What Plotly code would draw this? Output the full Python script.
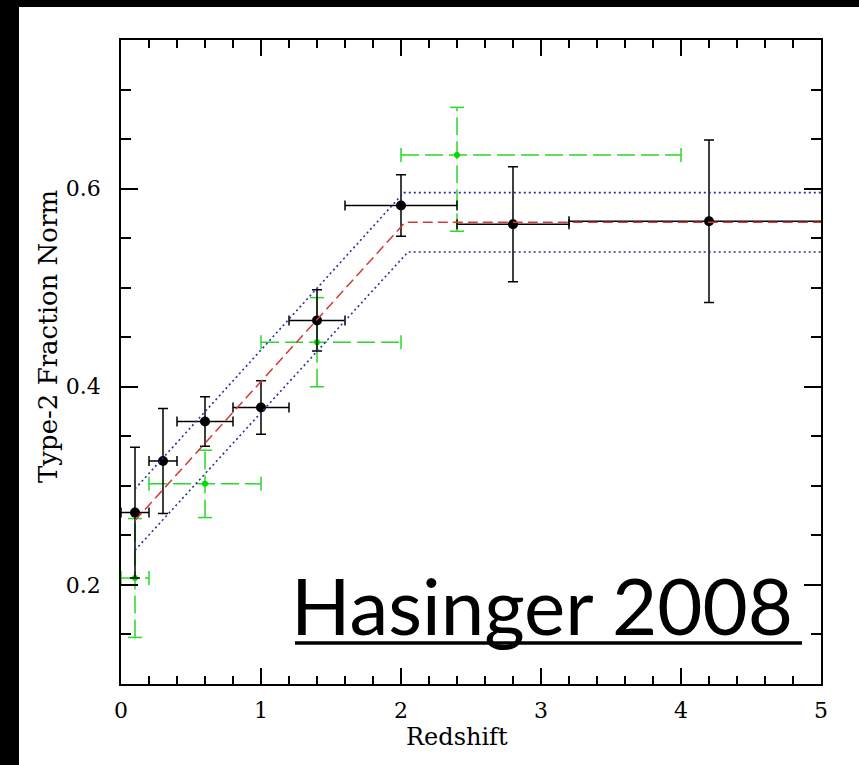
import plotly.graph_objects as go

# ---- data ----
blk_x = [0.1, 0.3, 0.6, 1.0, 1.4, 2.0, 2.8, 4.2]
blk_y = [0.273, 0.325, 0.365, 0.379, 0.467, 0.583, 0.564, 0.567]
blk_xerr = [0.1, 0.1, 0.2, 0.2, 0.2, 0.4, 0.4, 1.0]
blk_yerr = [0.066, 0.053, 0.025, 0.027, 0.031, 0.031, 0.058, 0.082]

grn_x = [0.1, 0.6, 1.4, 2.4]
grn_y = [0.207, 0.302, 0.445, 0.634]
grn_xminus = [0.1, 0.4, 0.4, 0.4]
grn_xplus = [0.1, 0.4, 0.6, 1.6]
grn_yminus = [0.06, 0.034, 0.045, 0.077]
grn_yplus = [0.06, 0.034, 0.045, 0.048]

fit_x = [0.1, 2.03, 5.0]
fit_y = [0.265, 0.566, 0.566]
hi_x = [0.1, 2.02, 5.0]
hi_y = [0.297, 0.596, 0.596]
lo_x = [0.1, 2.05, 5.0]
lo_y = [0.235, 0.536, 0.536]

x_ticks = [0, 1, 2, 3, 4, 5]
y_ticks = [0.2, 0.4, 0.6]

GREEN = "#2ad92a"
GREEN_M = "#00d800"
RED = "#d23a3a"
BLUE = "#27309e"

fig = go.Figure()

# green dashed error bars (segments) built from data
seg_x, seg_y = [], []
capx_x, capx_y, capy_x, capy_y = [], [], [], []
for x, y, xm, xp, ym, yp in zip(grn_x, grn_y, grn_xminus, grn_xplus, grn_yminus, grn_yplus):
    seg_x += [x - xm, x + xp, None, x, x, None]
    seg_y += [y, y, None, y - ym, y + yp, None]
    capx_x += [x - xm, x + xp]
    capx_y += [y, y]
    capy_x += [x, x]
    capy_y += [y - ym, y + yp]

fig.add_trace(go.Scatter(x=seg_x, y=seg_y, mode="lines",
                         line=dict(color=GREEN, width=1.5, dash="18px,6px"),
                         showlegend=False, hoverinfo="skip"))
fig.add_trace(go.Scatter(x=capx_x, y=capx_y, mode="markers",
                         marker=dict(symbol="line-ns", size=10, line=dict(color=GREEN, width=1.5)),
                         showlegend=False, hoverinfo="skip"))
fig.add_trace(go.Scatter(x=capy_x, y=capy_y, mode="markers",
                         marker=dict(symbol="line-ew", size=10, line=dict(color=GREEN, width=1.5)),
                         showlegend=False, hoverinfo="skip"))
fig.add_trace(go.Scatter(x=grn_x, y=grn_y, mode="markers",
                         marker=dict(color=GREEN_M, size=6),
                         showlegend=False))

# black points with error bars
fig.add_trace(go.Scatter(
    x=blk_x, y=blk_y, mode="markers",
    marker=dict(color="black", size=10),
    error_x=dict(type="data", array=blk_xerr, color="black", thickness=1.5, width=5),
    error_y=dict(type="data", array=blk_yerr, color="black", thickness=1.5, width=5),
    showlegend=False))

# fit and confidence band
fig.add_trace(go.Scatter(x=hi_x, y=hi_y, mode="lines",
                         line=dict(color=BLUE, width=1.6, dash="2px,3px"), showlegend=False))
fig.add_trace(go.Scatter(x=lo_x, y=lo_y, mode="lines",
                         line=dict(color=BLUE, width=1.6, dash="2px,3px"), showlegend=False))
fig.add_trace(go.Scatter(x=fit_x, y=fit_y, mode="lines",
                         line=dict(color=RED, width=1.5, dash="10px,5px"), showlegend=False))

axis_common = dict(showline=True, linecolor="black", linewidth=1.5, mirror="ticks",
                   ticks="inside", tickcolor="black", tickwidth=1.5,
                   showgrid=False, zeroline=False,
                   tickfont=dict(family="DejaVu Serif", size=22, color="black"))

fig.update_xaxes(range=[0, 5], tickvals=x_ticks, ticktext=[str(v) for v in x_ticks],
                 ticklen=16, ticklabelstandoff=6,
                 minor=dict(dtick=0.2, tick0=0, ticks="inside", ticklen=8,
                            tickcolor="black", tickwidth=1.5, showgrid=False),
                 **axis_common)
fig.update_yaxes(range=[0.1, 0.75], tickvals=y_ticks, ticktext=[f"{v:.1f}" for v in y_ticks],
                 ticklen=17, ticklabelstandoff=14,
                 minor=dict(dtick=0.05, tick0=0, ticks="inside", ticklen=10,
                            tickcolor="black", tickwidth=1.5, showgrid=False),
                 **axis_common)

W, H = 859, 765
L, R, T, B = 121, 38, 40, 81
pw, ph = W - L - R, H - T - B

def px(xpix):
    return (xpix - L) / pw

def py(ypix):
    return (H - B - ypix) / ph

fig.update_layout(
    width=W, height=H,
    margin=dict(l=L, r=R, t=T, b=B),
    paper_bgcolor="white", plot_bgcolor="white",
    showlegend=False,
    annotations=[
        dict(text="Redshift", xref="paper", yref="paper", x=px(457), y=py(737),
             xanchor="center", yanchor="middle", showarrow=False,
             font=dict(family="DejaVu Serif", size=24, color="black")),
        dict(text="Type-2 Fraction Norm", xref="paper", yref="paper", x=px(48), y=py(337),
             xanchor="center", yanchor="middle", showarrow=False, textangle=-90,
             font=dict(family="DejaVu Serif", size=26, color="black")),
        dict(text="Hasinger 2008", xref="paper", yref="paper", x=px(289), y=py(605),
             xanchor="left", yanchor="middle", showarrow=False,
             font=dict(family="Lato", size=78, color="black")),
    ],
    shapes=[
        dict(type="rect", xref="paper", yref="paper", x0=px(-5), x1=px(19), y0=py(770), y1=py(-5),
             fillcolor="black", line=dict(width=0)),
        dict(type="rect", xref="paper", yref="paper", x0=px(-5), x1=px(865), y0=py(7), y1=py(-5),
             fillcolor="black", line=dict(width=0)),
        dict(type="line", xref="paper", yref="paper", x0=px(295), x1=px(802), y0=py(643), y1=py(643),
             line=dict(color="black", width=3.5)),
    ],
)

fig.write_html("out.html")
